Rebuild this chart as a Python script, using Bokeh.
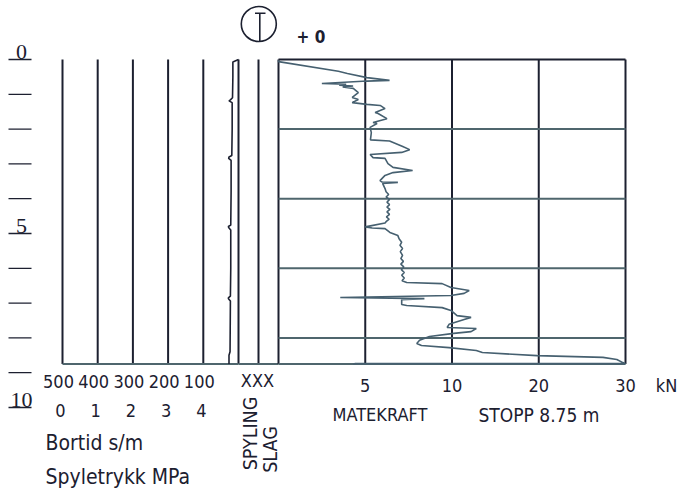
import numpy as np
from bokeh.plotting import figure
from bokeh.models import Range1d
from bokeh.core.properties import value
from bokeh.embed import file_html
from bokeh.resources import INLINE

# ---------------------------------------------------------------- data
stop_depth = 8.75                      # m
depth_ticks = list(range(0, 11))       # m
depth_labels = [0, 5, 10]
grid_depths = [2, 4, 6, 8]

bortid_ticks = [500, 400, 300, 200, 100]   # s/m
bortid_zero = 0
spyl_ticks = [0, 1, 2, 3, 4]               # MPa

force_breaks = [0, 5, 10, 20, 30]          # kN, piecewise scale
force_ticks = [5, 10, 20, 30]

# feed force (matekraft) against depth
mk_depth = [0.02, 0.06, 0.34, 0.40, 0.52, 0.60, 0.62, 0.69, 0.71, 0.74, 0.76, 0.79,
            0.83, 0.95, 1.09, 1.15, 1.24, 1.29, 1.32, 1.41, 1.52, 1.55, 1.70, 1.81,
            1.84, 1.95, 2.10, 2.31, 2.34, 2.50, 2.59, 2.67, 2.73, 2.82, 2.84, 2.99,
            3.10, 3.19, 3.25, 3.33, 3.48, 3.52, 3.53, 3.56, 3.71, 3.80, 3.88, 3.95,
            4.02, 4.10, 4.17, 4.24, 4.31, 4.38, 4.45, 4.52, 4.59, 4.66, 4.70, 4.78,
            4.81, 4.84, 4.86, 4.97, 5.06, 5.15, 5.25, 5.34, 5.43, 5.52, 5.63, 5.72,
            5.80, 5.88, 5.96, 6.04, 6.12, 6.20, 6.28, 6.36, 6.41, 6.44, 6.55, 6.64,
            6.72, 6.78, 6.84, 6.87, 6.90, 7.04, 7.07, 7.13, 7.21, 7.36, 7.41, 7.47,
            7.61, 7.70, 7.73, 7.82, 7.87, 7.96, 8.07, 8.16, 8.22, 8.28, 8.36, 8.42,
            8.51, 8.56, 8.62, 8.71, 8.74, 8.74, 8.76]
mk_kn = [0.0, 0.0, 3.45, 3.97, 5.1, 6.4, 5.1, 2.5, 3.9, 3.5, 4.3, 3.7,
         4.31, 4.6, 4.25, 4.6, 4.25, 5.1, 5.86, 6.14, 5.57, 5.74, 6.25, 5.45,
         5.68, 5.28, 5.35, 5.3, 6.4, 7.16, 7.56, 7.1, 5.28, 5.45, 6.14, 6.31,
         6.6, 7.73, 6.6, 6.14, 5.85, 5.97, 6.88, 6.0, 6.14, 6.2, 6.35, 6.2,
         6.4, 6.25, 6.4, 6.25, 6.42, 6.25, 6.4, 6.22, 6.38, 6.2, 6.14, 5.3,
         5.0, 5.4, 6.14, 6.42, 6.88, 6.95, 7.1, 7.0, 7.15, 7.02, 7.15, 7.05,
         7.2, 7.05, 7.22, 7.08, 7.25, 7.1, 7.25, 7.12, 7.39, 9.43, 9.94, 11.98,
         11.4, 9.94, 3.56, 8.41, 7.1, 7.1, 7.39, 9.43, 9.94, 10.58, 12.2, 11.4,
         9.83, 9.72, 12.8, 12.2, 10.2, 8.7, 8.13, 7.97, 8.24, 9.83, 12.8, 13.5,
         19.8, 27.4, 29.0, 29.7, 30.0, 4.4, 4.3]

# drilling time (bortid) against depth
bt_depth = [0.0, 0.07, 0.5, 1.10, 1.16, 1.19, 1.24, 2.0, 2.76, 2.80, 2.84, 2.90,
            3.8, 4.76, 4.80, 4.84, 4.90, 6.0, 6.80, 6.85, 6.88, 6.94, 8.40, 8.50, 8.75]
bt_s = [0, 16, 16, 17, 23, 27, 18, 18, 19, 27, 28, 21,
        21, 22, 29, 27, 22, 22, 23, 29, 28, 23, 24, 27, 27]

# ---------------------------------------------------------------- layout
W, H = 678, 490
DEPTH_TOP, PX_PER_M = 59.0, 34.8

INK = "#1c2030"
CURVE = "#466070"
GRID = "#4f666d"
FONT = value("DejaVu Sans Condensed")


def span(px_a, val_a, px_b, val_b, size):
    """Range whose values val_a/val_b land on pixels px_a/px_b."""
    k = (val_b - val_a) / (px_b - px_a)
    return Range1d(start=val_a - px_a * k, end=val_a + (size - px_a) * k)


def fpos(kn):
    return np.interp(kn, force_breaks, np.arange(len(force_breaks)))


p = figure(width=W, height=H, output_backend="svg", toolbar_location=None,
           x_axis_type=None, y_axis_type=None, min_border=0,
           x_range=Range1d(0, W), y_range=Range1d(H, 0))
p.outline_line_color = None
p.grid.visible = False
p.background_fill_color = "white"

p.extra_y_ranges = {"depth": Range1d(start=(H - DEPTH_TOP) / PX_PER_M,
                                     end=-DEPTH_TOP / PX_PER_M)}
p.extra_x_ranges = {
    "bortid": span(62, 500, 238, 0, W),
    "spyl": span(62, 0, 203, 4, W),
    "force": span(278, 0, 625, 4, W),
}

# depth ruler on the far left
p.segment(x0=[8] * len(depth_ticks), x1=[31] * len(depth_ticks),
          y0=depth_ticks, y1=depth_ticks, y_range_name="depth",
          line_color=INK, line_width=1.3)
p.text(x=[21] * len(depth_labels), y=depth_labels, text=[str(d) for d in depth_labels],
       y_range_name="depth", text_align="center", text_baseline="bottom", y_offset=-1,
       text_font=value("Liberation Serif"), text_font_size="22px", text_color=INK)

# drilling-time / flushing-pressure panel
p.segment(x0=bortid_ticks + [bortid_zero], x1=bortid_ticks + [bortid_zero],
          y0=[0] * 6, y1=[stop_depth] * 6, x_range_name="bortid", y_range_name="depth",
          line_color=INK, line_width=2)
p.segment(x0=[500], x1=[0], y0=[stop_depth], y1=[stop_depth],
          x_range_name="bortid", y_range_name="depth", line_color=GRID, line_width=2)
p.line(x=bt_s, y=bt_depth, x_range_name="bortid", y_range_name="depth",
       line_color=INK, line_width=1.6)

# flushing / hammering column
p.segment(x0=[258], x1=[258], y0=[0], y1=[stop_depth], y_range_name="depth",
          line_color=INK, line_width=2)
p.segment(x0=[238], x1=[278], y0=[stop_depth], y1=[stop_depth], y_range_name="depth",
          line_color=GRID, line_width=2)

# feed-force panel
fx = fpos(force_breaks)
p.segment(x0=fx, x1=fx, y0=[0] * len(fx), y1=[stop_depth] * len(fx),
          x_range_name="force", y_range_name="depth", line_color=INK, line_width=2)
p.segment(x0=[0] * len(grid_depths), x1=[fpos(30)] * len(grid_depths),
          y0=grid_depths, y1=grid_depths, x_range_name="force", y_range_name="depth",
          line_color=GRID, line_width=2)
p.segment(x0=[0], x1=[fpos(30)], y0=[0], y1=[0], x_range_name="force",
          y_range_name="depth", line_color=INK, line_width=2)
p.segment(x0=[0], x1=[fpos(30)], y0=[stop_depth], y1=[stop_depth], x_range_name="force",
          y_range_name="depth", line_color=GRID, line_width=2)
p.line(x=fpos(mk_kn), y=mk_depth, x_range_name="force", y_range_name="depth",
       line_color=CURVE, line_width=1.6)

# tick labels
lab = dict(text_font=FONT, text_font_size="18px", text_color=INK,
           text_align="center", text_baseline="middle")
p.text(x=bortid_ticks, y=[381] * 5, text=[str(t) for t in bortid_ticks],
       x_range_name="bortid", x_offset=-4, **lab)
p.text(x=spyl_ticks, y=[410] * 5, text=[str(t) for t in spyl_ticks],
       x_range_name="spyl", x_offset=-2, **lab)
p.text(x=fpos(force_ticks), y=[385] * 4, text=[str(t) for t in force_ticks],
       x_range_name="force", **lab)
p.text(x=[666], y=[385], text=["kN"], **lab)
p.text(x=[257], y=[380], text=["XXX"], **lab)

left = dict(lab, text_align="left")
big = dict(left, text_font_size="21px")
p.text(x=[45], y=[442], text=["Bortid s/m"], **big)
p.text(x=[45], y=[476], text=["Spyletrykk MPa"], **big)
p.text(x=[332], y=[414], text=["MATEKRAFT"], **left)
p.text(x=[478], y=[414], text=[f"STOPP {stop_depth:.2f} m"], **dict(left, text_font_size="19px"))
vert = dict(lab, text_font_size="19.5px")
p.text(x=[250], y=[433], text=["SPYLING"], angle=np.pi / 2, **vert)
p.text(x=[270], y=[449], text=["SLAG"], angle=np.pi / 2, **vert)
p.text(x=[296], y=[36], text=["+ 0"], text_font=FONT, text_font_size="17px",
       text_font_style="bold", text_color=INK, text_baseline="middle")

# circled T marker
p.scatter(x=[258.3], y=[23.5], marker="circle", size=35, fill_color=None,
          line_color=INK, line_width=1.6)
p.segment(x0=[254.5, 259.3], x1=[265, 259.3], y0=[12.7, 12.7], y1=[12.7, 41],
          line_color=INK, line_width=1.6)

open("out.html", "w").write(file_html(p, INLINE))
